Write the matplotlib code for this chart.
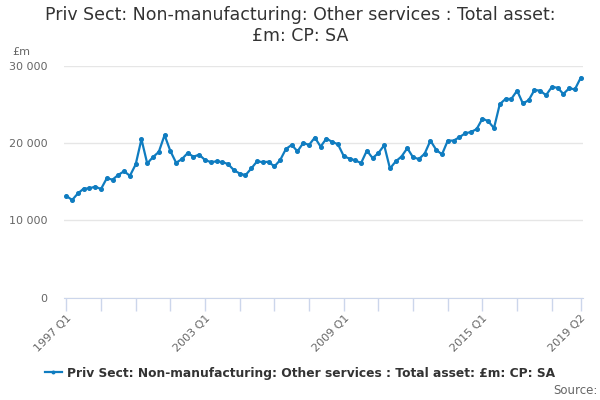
import numpy as np
import matplotlib
matplotlib.use("Agg")
import matplotlib.pyplot as plt

# Quarterly values, 1997 Q1 .. 2019 Q2 (£m)
values = [
    13200, 12640, 13500, 14120, 14160, 14380, 14070, 15460, 15290, 15900,
    16380, 15780, 17250, 20520, 17380, 18210, 18870, 21050, 19000, 17470,
    17950, 18730, 18260, 18520, 17820, 17560, 17650, 17560, 17300, 16510,
    16080, 15860, 16730, 17650, 17560, 17600, 16990, 17820, 19260, 19780,
    18950, 20040, 19780, 20740, 19560, 20610, 20170, 19870, 18340, 18000,
    17780, 17430, 19040, 18080, 18730, 19740, 16730, 17650, 18280, 19360,
    18170, 17960, 18640, 20340, 19150, 18550, 20340, 20340, 20770, 21280,
    21450, 21830, 23190, 22850, 21960, 25060, 25740, 25740, 26810, 25150,
    25570, 26890, 26810, 26210, 27280, 27190, 26380, 27110, 26980, 28470,
]
quarters = [f"{1997 + i // 4} Q{i % 4 + 1}" for i in range(len(values))]
label_idx = [0, 24, 48, 72, 89]
y_ticks = [0, 10000, 20000, 30000]
y_labels = ["0", "10 000", "20 000", "30 000"]

title = "Priv Sect: Non-manufacturing: Other services : Total asset:\n£m: CP: SA"
series_name = "Priv Sect: Non-manufacturing: Other services : Total asset: £m: CP: SA"

line_col = "#0f7cc0"
axis_col = "#ccd6eb"
grid_col = "#e6e6e6"
text_col = "#666666"

fig = plt.figure(figsize=(6, 4), dpi=100)
ax = fig.add_axes([64 / 600, 102.3 / 400, (583 - 64) / 600, (297.7 - 66) / 400])

x = np.arange(len(values))
ax.plot(x, values, color=line_col, lw=1.6, marker="o", ms=2.6, label=series_name)

ax.set_xlim(-0.4, 89.4)
ax.set_ylim(0, 30000)

ax.set_yticks(y_ticks)
ax.set_yticklabels(y_labels, color=text_col, fontsize=8)
ax.tick_params(axis="y", length=0, pad=12)
ax.grid(axis="y", color=grid_col, lw=1)
ax.set_axisbelow(True)

ax.set_xticks(x[::6], minor=True)
ax.set_xticks(label_idx)
ax.set_xticklabels([quarters[i] for i in label_idx], rotation=45, ha="right",
                   rotation_mode="anchor", color=text_col, fontsize=8)
ax.tick_params(axis="x", which="both", length=9, color=axis_col, width=1)
ax.tick_params(axis="x", which="major", pad=2)

for s in ["top", "right", "left"]:
    ax.spines[s].set_visible(False)
ax.spines["bottom"].set_color(axis_col)

fig.text(0.5, 0.985, title, ha="center", va="top", fontsize=12.5, color="#333333",
         linespacing=1.2)
fig.text(12 / 600, 1 - 52 / 400, "£m", fontsize=8, color=text_col, va="center")

leg = fig.legend(loc="center", bbox_to_anchor=(0.5, 1 - 373 / 400), frameon=False,
                 handlelength=1.4, handletextpad=0.4, markerscale=0.7,
                 prop={"weight": "bold", "size": 8.8})
for t in leg.get_texts():
    t.set_color("#333333")
fig.text(598 / 600, 1 - 390 / 400, "Source:", ha="right", va="center",
         fontsize=8.5, color=text_col)

fig.savefig("out.png", dpi=100)
